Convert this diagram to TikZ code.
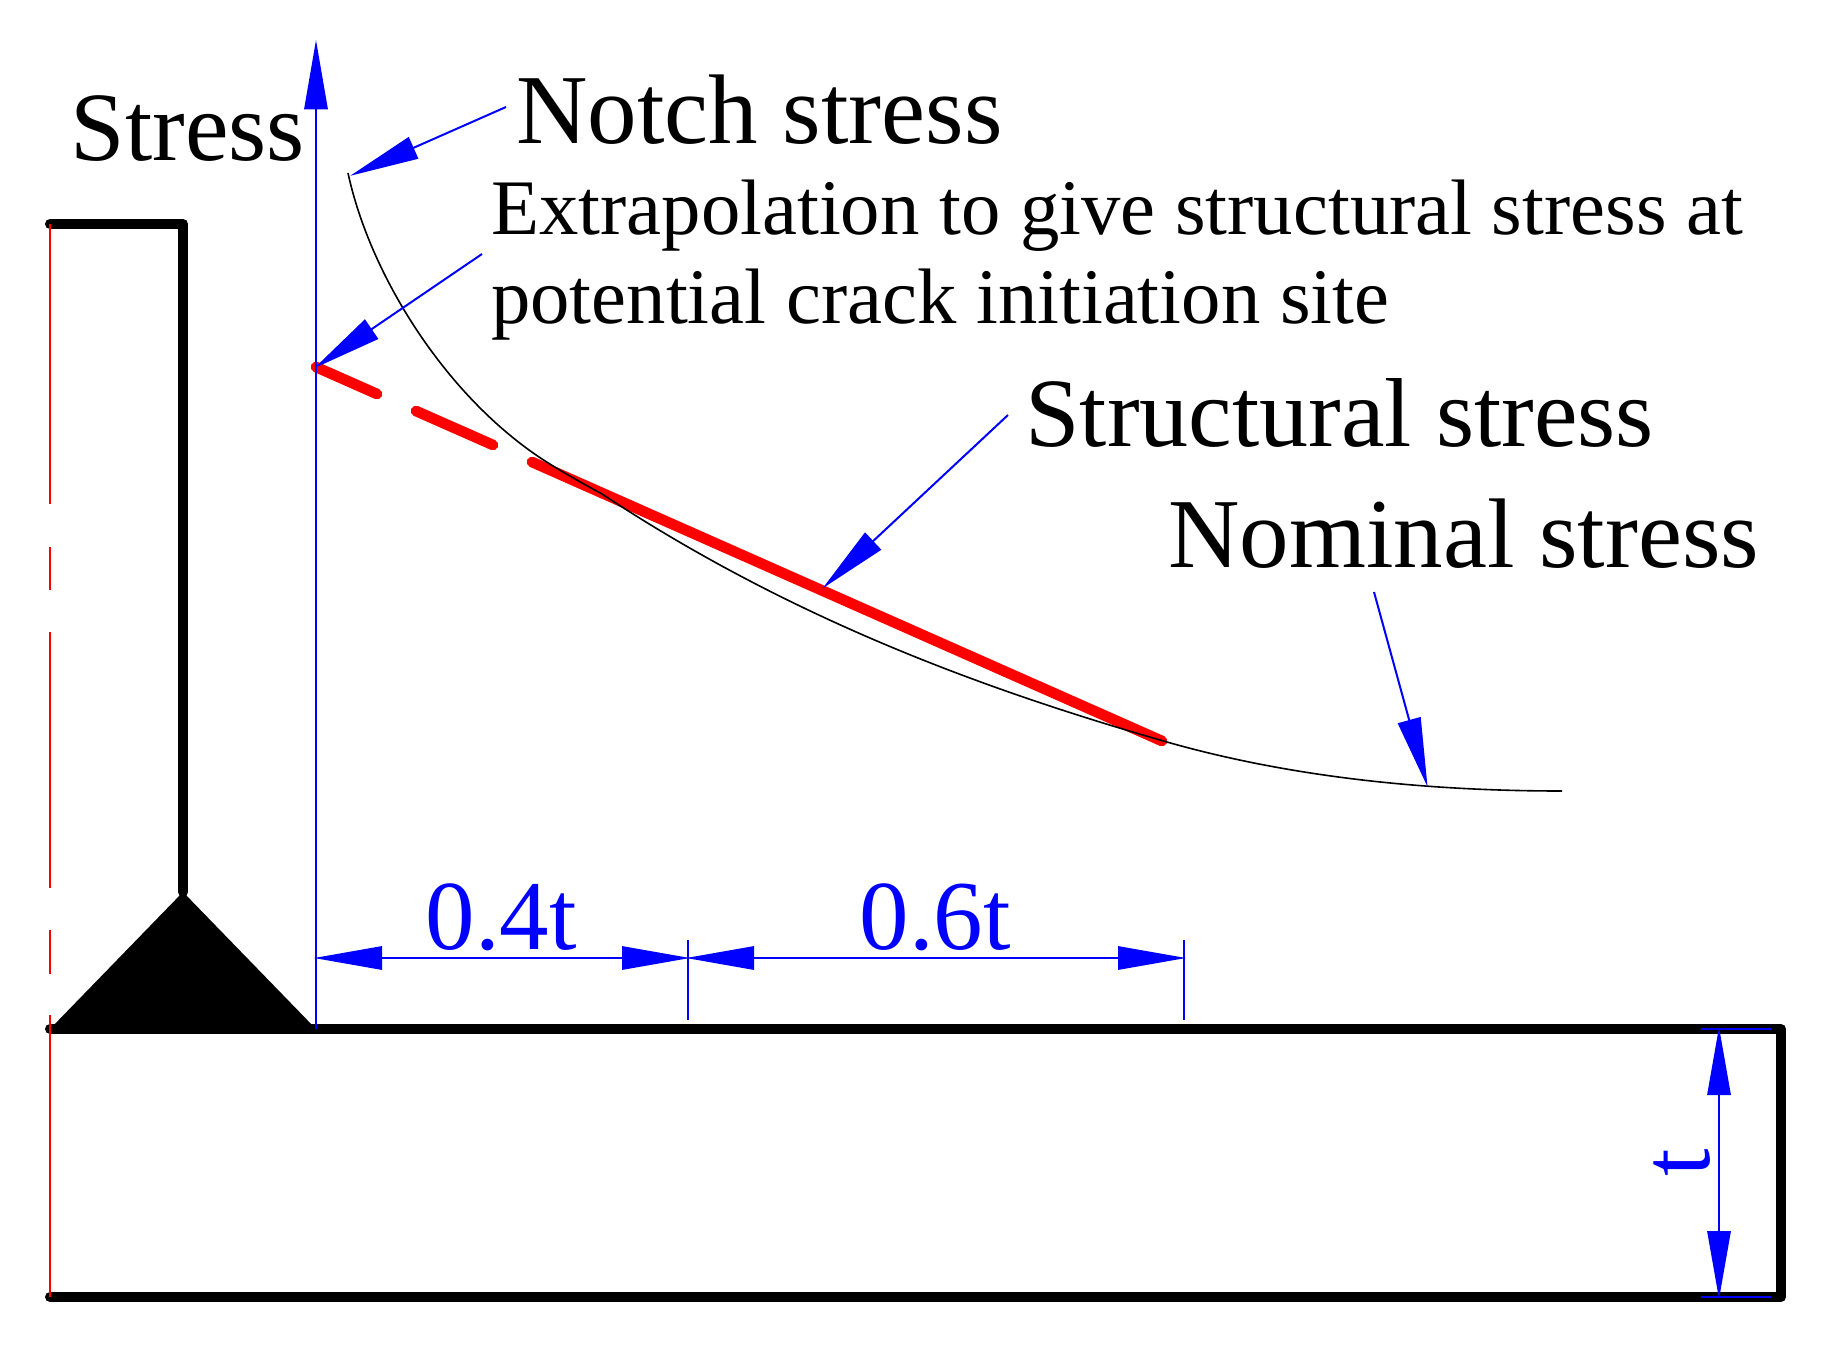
\documentclass[tikz,border=0pt]{standalone}
\usepackage{fontspec}
\setmainfont{Liberation Serif}
\usetikzlibrary{arrows.meta}

\begin{document}
\begin{tikzpicture}[x=0.75pt,y=-0.75pt,
                   plate/.style={line width=7.5pt,line cap=round,line join=round},
                   centre/.style={red,line width=1.5pt},
                   dim/.style={blue,line width=1.5pt},
                   leader/.style={dim,shorten >=-1.5pt,-{Triangle[length=52pt,width=17.5pt]}},
                   both/.style={dim,shorten >=-1.5pt,shorten <=-1.5pt,{Triangle[length=51pt,width=17.5pt]}-{Triangle[length=51pt,width=17.5pt]}},
                   hot/.style={red,line width=8pt,line cap=round},
                   big/.style={inner sep=0pt,anchor=base west,font=\fontsize{74.2}{80}\selectfont},
                   plain/.style={inner sep=0pt,anchor=base west,font=\fontsize{73.5}{80}\selectfont},
                   mid/.style={inner sep=0pt,anchor=base west,align=left,font=\fontsize{59}{66.75}\selectfont}]
\useasboundingbox (0,0) rectangle (1833,1348);
% plate and weld
\coordinate (topL) at (50,224);
\coordinate (topR) at (183,224);
\coordinate (apex) at (183,892);
\coordinate (footL) at (50,1029);
\coordinate (footR) at (316,1029);
\coordinate (endT) at (1781,1029);
\coordinate (endB) at (1781,1297);
\coordinate (baseL) at (50,1297);
\fill (apex) -- (footL) -- (footR) -- cycle;
\draw[plate] (topL) -- (topR) -- (apex);
\draw[plate] (footL) -- (endT) -- (endB) -- (baseL);
% centre line
\draw[centre] (topL) -- (50,504) (50,547) -- (50,590) (50,632) -- (50,888) (50,930) -- (50,974) (50,1015) -- (baseL);
% extrapolation
\coordinate (zero) at (316,367);
\coordinate (hotA) at (377,394);
\coordinate (hotB) at (416,411);
\coordinate (hotC) at (493,445);
\coordinate (hotD) at (532,462);
\coordinate (hotE) at (1162,741);
\draw[hot] (zero) -- (hotA) (hotB) -- (hotC) (hotD) -- (hotE);
% stress curve
\draw[line width=1.2pt] (348,173) .. controls (370,275) and (445,395) .. (542,459)
  .. controls (562,472) and (582,483) .. (602,494)
  .. controls (790,618) and (980,688) .. (1160,740)
  .. controls (1290,778) and (1430,791) .. (1562,791);
% labels
\node[plain] (stress) at (70.5,161) {Stress};
\node[big] (notch) at (516,144) {Notch stress};
\node[mid] (extrap) at (491,323) {Extrapolation to give structural stress at\\potential crack initiation site};
\node[plain] (struct) at (1025,446) {Structural stress};
\node[big] (nominal) at (1168,567) {Nominal stress};
% leaders
\coordinate (axisB) at (316,1029);
\coordinate (axisT) at (316,42);
\coordinate (notchS) at (506,107);
\coordinate (notchE) at (352,175);
\coordinate (extrapS) at (482,254);
\coordinate (structS) at (1008,415);
\coordinate (structE) at (824,587);
\coordinate (nomS) at (1374,592);
\coordinate (nomE) at (1427,785);
\draw[leader] (axisB) -- (axisT);
\draw[leader] (notchS) -- (notchE);
\draw[leader] (extrapS) -- (zero);
\draw[leader] (structS) -- (structE);
\draw[leader] (nomS) -- (nomE);
% dimensions
\coordinate (d0) at (316,958);
\coordinate (d1) at (688,958);
\coordinate (d2) at (1184,958);
\draw[dim] (688,940) -- (688,1020) (1184,940) -- (1184,1020);
\draw[both] (d0) -- (d1);
\draw[both] (d1) -- (d2);
\node[big,blue] (dimA) at (425.5,949) {0.4t};
\node[big,blue] (dimB) at (859.5,949) {0.6t};
\coordinate (tT) at (1719,1029);
\coordinate (tB) at (1719,1297);
\draw[dim] (1701,1029) -- (1771,1029) (1701,1297) -- (1771,1297);
\draw[both] (tT) -- (tB);
\node[big,blue,rotate=90] (dimT) at (1709,1177) {t};
\end{tikzpicture}
\end{document}
